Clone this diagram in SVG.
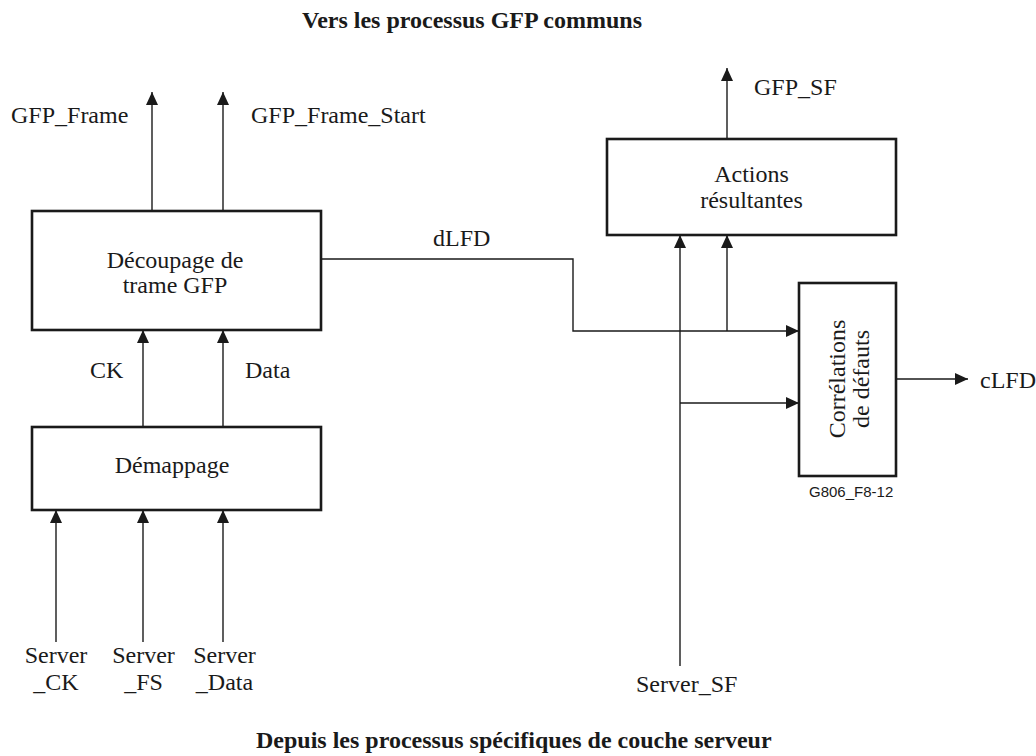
<svg xmlns="http://www.w3.org/2000/svg" width="1036" height="756" viewBox="0 0 1036 756">
<style>
text{font-family:"Liberation Serif","Times New Roman",serif;font-size:24px;fill:#1a1a1a}
.t{font-weight:bold}
.c{text-anchor:middle}
.s{font-family:"Liberation Sans",Arial,sans-serif;font-size:15px}
.box{fill:#fff;stroke:#1a1a1a;stroke-width:2.6}
.ln{fill:none;stroke:#1a1a1a;stroke-width:1.4}
.ar{marker-end:url(#arr)}
</style>
<defs>
<marker id="arr" viewBox="0 0 13 12" refX="13" refY="6" markerWidth="13" markerHeight="12" markerUnits="userSpaceOnUse" orient="auto">
<path d="M0,0 L13,6 L0,12 z" fill="#1a1a1a"/>
</marker>
</defs>
<rect width="1036" height="756" fill="#fff"/>
<text class="t" x="302" y="28">Vers les processus GFP communs</text>
<text class="t" x="256" y="748">Depuis les processus spécifiques de couche serveur</text>
<g id="connectors">
<path class="ln ar" d="M152,211 V92"/>
<path class="ln ar" d="M223,211 V92"/>
<path class="ln ar" d="M143,427 V330"/>
<path class="ln ar" d="M223,427 V330"/>
<path class="ln ar" d="M56,642 V510"/>
<path class="ln ar" d="M143,642 V510"/>
<path class="ln ar" d="M223,642 V510"/>
<path class="ln ar" d="M321,259 H573 V331 H799"/>
<path class="ln ar" d="M680,666 V235"/>
<path class="ln ar" d="M680,403 H799"/>
<path class="ln ar" d="M727,331 V235"/>
<path class="ln ar" d="M727,139 V68"/>
<path class="ln ar" d="M896,379 H968"/>
<text x="11" y="123">GFP_Frame</text>
<text x="251" y="123">GFP_Frame_Start</text>
<text x="754" y="95">GFP_SF</text>
<text x="433" y="246">dLFD</text>
<text x="90" y="378">CK</text>
<text x="245" y="378">Data</text>
<text x="980" y="388">cLFD</text>
<text class="c" x="56" y="663">Server</text>
<text class="c" x="56" y="690">_CK</text>
<text class="c" x="143.5" y="663">Server</text>
<text class="c" x="143.5" y="690">_FS</text>
<text class="c" x="224.5" y="663">Server</text>
<text class="c" x="224.5" y="690">_Data</text>
<text x="636" y="692">Server_SF</text>
</g>
<g id="decoupage">
<rect class="box" x="32" y="211" width="289" height="119"/>
<text class="c" x="175" y="268">Découpage de</text>
<text class="c" x="175" y="293">trame GFP</text>
</g>
<g id="demappage">
<rect class="box" x="32" y="427" width="289" height="83"/>
<text class="c" x="172" y="473">Démappage</text>
</g>
<g id="actions">
<rect class="box" x="607" y="139" width="289" height="96"/>
<text class="c" x="751.5" y="182">Actions</text>
<text class="c" x="751.5" y="208">résultantes</text>
</g>
<g id="correlations">
<rect class="box" x="799" y="283" width="97" height="193"/>
<text class="c" x="845" y="379" transform="rotate(-90 845 379)">Corrélations</text>
<text class="c" x="869" y="379" transform="rotate(-90 869 379)">de défauts</text>
<text class="s" x="809" y="497">G806_F8-12</text>
</g>
</svg>
